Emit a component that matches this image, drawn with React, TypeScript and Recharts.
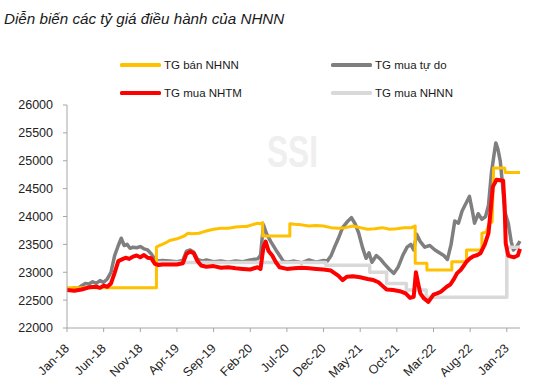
import React from 'react';
import { LineChart, Line, XAxis, YAxis } from 'recharts';

const TITLE = 'Diễn biến các tỷ giá điều hành của NHNN';
const WATERMARK = 'SSI';

// x positions are months since Jan-18
const tickMonths = [0, 5, 10, 15, 20, 25, 30, 35, 40, 45, 50, 55, 60];
const tickLabels = ['Jan-18', 'Jun-18', 'Nov-18', 'Apr-19', 'Sep-19', 'Feb-20', 'Jul-20', 'Dec-20', 'May-21', 'Oct-21', 'Mar-22', 'Aug-22', 'Jan-23'];
const yTicks = [22000, 22500, 23000, 23500, 24000, 24500, 25000, 25500, 26000];

const seriesNames = ['TG bán NHNN', 'TG mua tự do', 'TG mua NHTM', 'TG mua NHNN'];
const seriesColors = ['#FFC000', '#7F7F7F', '#FF0000', '#D9D9D9'];

// TG bán NHNN
const sellSbvMonths = [0, 12.2, 12.2, 12.6, 13, 13.5, 14, 15, 16, 16.5, 17, 18, 18.5, 19, 20, 21, 22, 23, 24, 24.5, 25, 25.5, 26, 26.4, 26.7, 26.7, 30.4, 30.4, 31, 32, 33, 34, 35, 36, 37, 38, 39, 40, 41, 42, 43, 44, 45, 46, 47, 47.5, 47.5, 49.1, 49.1, 52.5, 52.5, 54.5, 54.5, 56.6, 56.6, 57.2, 57.6, 58, 58.2, 59.7, 59.8, 61.8];
const sellSbvRates = [22720, 22720, 23450, 23480, 23500, 23530, 23570, 23600, 23650, 23700, 23690, 23700, 23720, 23740, 23770, 23790, 23790, 23810, 23820, 23820, 23840, 23860, 23880, 23870, 23890, 23650, 23650, 23870, 23860, 23850, 23830, 23840, 23830, 23800, 23790, 23800, 23830, 23800, 23770, 23780, 23800, 23770, 23780, 23800, 23800, 23830, 23160, 23160, 23040, 23040, 23190, 23190, 23400, 23400, 23700, 23720, 23880, 23900, 24870, 24870, 24790, 24790];

// TG mua tự do
const freeMonths = [0, 0.5, 1, 1.5, 2, 2.5, 3, 3.5, 4, 4.5, 5, 5.5, 6, 6.5, 7, 7.4, 7.8, 8.2, 8.6, 9, 9.5, 10, 10.5, 11, 11.5, 12, 12.5, 13, 14, 15, 15.8, 16.3, 16.8, 17.3, 17.8, 18.5, 19, 20, 21, 22, 23, 24, 25, 26, 26.4, 26.8, 27.2, 27.8, 28.5, 29, 29.5, 30, 31, 32, 33, 34, 35, 35.5, 36, 36.5, 37, 37.6, 38.2, 38.8, 39.3, 39.8, 40.3, 40.8, 41.2, 41.6, 42.2, 42.8, 43.3, 44, 44.6, 45.2, 45.8, 46.4, 46.9, 47.3, 47.7, 48.2, 48.8, 49.5, 50.2, 50.8, 51.4, 51.9, 52.4, 52.9, 53.4, 53.9, 54.4, 54.9, 55.3, 55.6, 56.1, 56.6, 57.1, 57.5, 57.9, 58.3, 58.5, 58.8, 59.1, 59.4, 59.7, 60.2, 60.6, 60.9, 61.3, 61.8];
const freeRates = [22700, 22690, 22720, 22710, 22760, 22800, 22790, 22830, 22800, 22850, 22820, 22880, 23000, 23300, 23480, 23610, 23480, 23500, 23430, 23450, 23440, 23460, 23420, 23400, 23330, 23230, 23200, 23210, 23200, 23190, 23210, 23380, 23400, 23360, 23230, 23200, 23220, 23190, 23200, 23180, 23200, 23190, 23220, 23240, 23300, 23850, 23700, 23550, 23400, 23300, 23200, 23180, 23200, 23170, 23220, 23180, 23210, 23200, 23290, 23450, 23600, 23800, 23900, 23980, 23870, 23700, 23450, 23250, 23350, 23180, 23300, 23230, 23150, 23050, 22980, 23100, 23300, 23450, 23500, 23400, 23680, 23550, 23450, 23480, 23400, 23350, 23300, 23230, 23500, 23920, 23880, 24100, 24230, 24360, 24100, 23880, 24050, 23950, 24000, 24200, 24780, 25150, 25320, 25200, 25000, 24600, 24100, 23880, 23550, 23400, 23450, 23560];

// TG mua NHTM
const bankMonths = [0, 1, 2, 3, 4, 4.5, 5, 5.5, 6, 6.5, 7, 7.5, 8, 8.5, 9, 9.5, 10, 10.5, 11, 11.5, 12, 12.5, 13, 14, 15, 15.8, 16.3, 16.8, 17.3, 17.8, 18.3, 19, 20, 21, 22, 23, 24, 25, 26, 26.4, 26.8, 27.1, 27.5, 28, 28.5, 29, 30, 31, 32, 33, 34, 35, 35.5, 36, 37, 37.6, 38.2, 39, 40, 41, 41.8, 42.5, 43, 43.6, 44.5, 45.4, 46.2, 46.8, 47.3, 47.6, 47.9, 48.2, 48.7, 49.3, 50, 50.5, 51, 51.8, 52.3, 52.8, 53.2, 53.7, 54.2, 54.5, 55, 55.5, 56, 56.4, 57, 57.5, 58.1, 58.6, 59.1, 59.5, 59.7, 59.85, 60.2, 60.6, 61, 61.5, 61.8];
const bankRates = [22680, 22670, 22690, 22730, 22740, 22720, 22760, 22740, 22800, 22990, 23200, 23230, 23260, 23240, 23280, 23300, 23270, 23310, 23260, 23250, 23150, 23130, 23140, 23140, 23140, 23160, 23330, 23370, 23340, 23200, 23120, 23100, 23110, 23080, 23090, 23070, 23060, 23050, 23090, 23060, 23450, 23550, 23380, 23300, 23180, 23090, 23060, 23070, 23080, 23070, 23060, 23050, 23040, 23030, 22940, 22860, 22920, 22930, 22910, 22880, 22860, 22820, 22760, 22690, 22680, 22660, 22620, 22540, 22560, 23000, 22800, 22620, 22530, 22470, 22600, 22620, 22650, 22740, 22780, 22880, 22980, 23040, 23130, 23190, 23250, 23290, 23310, 23340, 23500, 23700, 24535, 24660, 24650, 24640, 24200, 23520, 23300, 23280, 23270, 23300, 23420];

// TG mua NHNN
const buySbvMonths = [12.2, 35.3, 35.3, 41.3, 41.3, 43.6, 43.6, 46.3, 46.3, 49.0, 49.0, 60.0, 60.0, 61.8];
const buySbvRates = [23175, 23175, 23125, 23125, 23000, 23000, 22800, 22800, 22680, 22680, 22550, 22550, 23450, 23450];

const toPoints = (months: number[], rates: number[]) => months.map((m, i) => ({ m, v: rates[i] }));

const FONT = '"Liberation Sans", Arial, sans-serif';
const AXIS_COLOR = '#A6A6A6';

const XTick = (props: any) => {
  const { x, y, payload } = props;
  const idx = tickMonths.indexOf(payload.value);
  const px = x + 3;
  const py = y + 15;
  return (
    <text x={px} y={py} transform={`rotate(-45 ${px} ${py})`} textAnchor="end" fontSize={12.5} fill="#222" fontFamily={FONT}>
      {tickLabels[idx]}
    </text>
  );
};

const legendPos = [
  { left: 120, top: 65 },
  { left: 331, top: 65 },
  { left: 120, top: 93 },
  { left: 331, top: 93 },
];

export default function App() {
  const sellSbv = toPoints(sellSbvMonths, sellSbvRates);
  const free = toPoints(freeMonths, freeRates);
  const bank = toPoints(bankMonths, bankRates);
  const buySbv = toPoints(buySbvMonths, buySbvRates);
  return (
    <div style={{ position: 'absolute', left: 0, top: 0, width: 556, height: 389, background: '#fff', fontFamily: FONT }}>
      <div style={{ position: 'absolute', left: 4, top: 10, fontSize: 15.2, fontStyle: 'italic', color: '#1a1a1a', whiteSpace: 'nowrap', lineHeight: '18px' }}>
        {TITLE}
      </div>
      <svg style={{ position: 'absolute', left: 0, top: 0 }} width={556} height={389}>
        <text x={267} y={167} fontSize={44} fontWeight="bold" fill="#EFEFEF" textLength={51} lengthAdjust="spacingAndGlyphs" fontFamily={FONT}>
          {WATERMARK}
        </text>
      </svg>
      {seriesNames.map((name, i) => (
        <div key={name} style={{ position: 'absolute', left: legendPos[i].left, top: legendPos[i].top - 8, height: 16, display: 'flex', alignItems: 'center', whiteSpace: 'nowrap' }}>
          <div style={{ width: 41, height: 3.5, background: seriesColors[i], borderRadius: 1.5 }} />
          <span style={{ marginLeft: 3, fontSize: 11.5, color: '#1a1a1a' }}>{name}</span>
        </div>
      ))}
      <div style={{ position: 'absolute', left: 0, top: 0 }}>
        <LineChart width={556} height={389} margin={{ top: 105, right: 36, bottom: 0, left: 0 }}>
          <XAxis
            dataKey="m"
            type="number"
            domain={[0, 61.8]}
            ticks={tickMonths}
            interval={0}
            height={61}
            tick={<XTick />}
            tickSize={4}
            tickMargin={2}
            stroke={AXIS_COLOR}
            allowDuplicatedCategory={false}
          />
          <YAxis
            type="number"
            domain={[22000, 26000]}
            ticks={yTicks}
            interval={0}
            width={67}
            tickSize={4}
            tickMargin={10}
            stroke={AXIS_COLOR}
            tick={{ fill: '#222', fontSize: 12.5, fontFamily: FONT }}
          />
          <Line data={free} dataKey="v" name={seriesNames[1]} stroke={seriesColors[1]} strokeWidth={3.5} dot={false} isAnimationActive={false} strokeLinejoin="round" />
          <Line data={buySbv} dataKey="v" name={seriesNames[3]} stroke={seriesColors[3]} strokeWidth={3.5} dot={false} isAnimationActive={false} strokeLinejoin="round" />
          <Line data={sellSbv} dataKey="v" name={seriesNames[0]} stroke={seriesColors[0]} strokeWidth={3} dot={false} isAnimationActive={false} strokeLinejoin="round" />
          <Line data={bank} dataKey="v" name={seriesNames[2]} stroke={seriesColors[2]} strokeWidth={4} dot={false} isAnimationActive={false} strokeLinejoin="round" />
        </LineChart>
      </div>
    </div>
  );
}
